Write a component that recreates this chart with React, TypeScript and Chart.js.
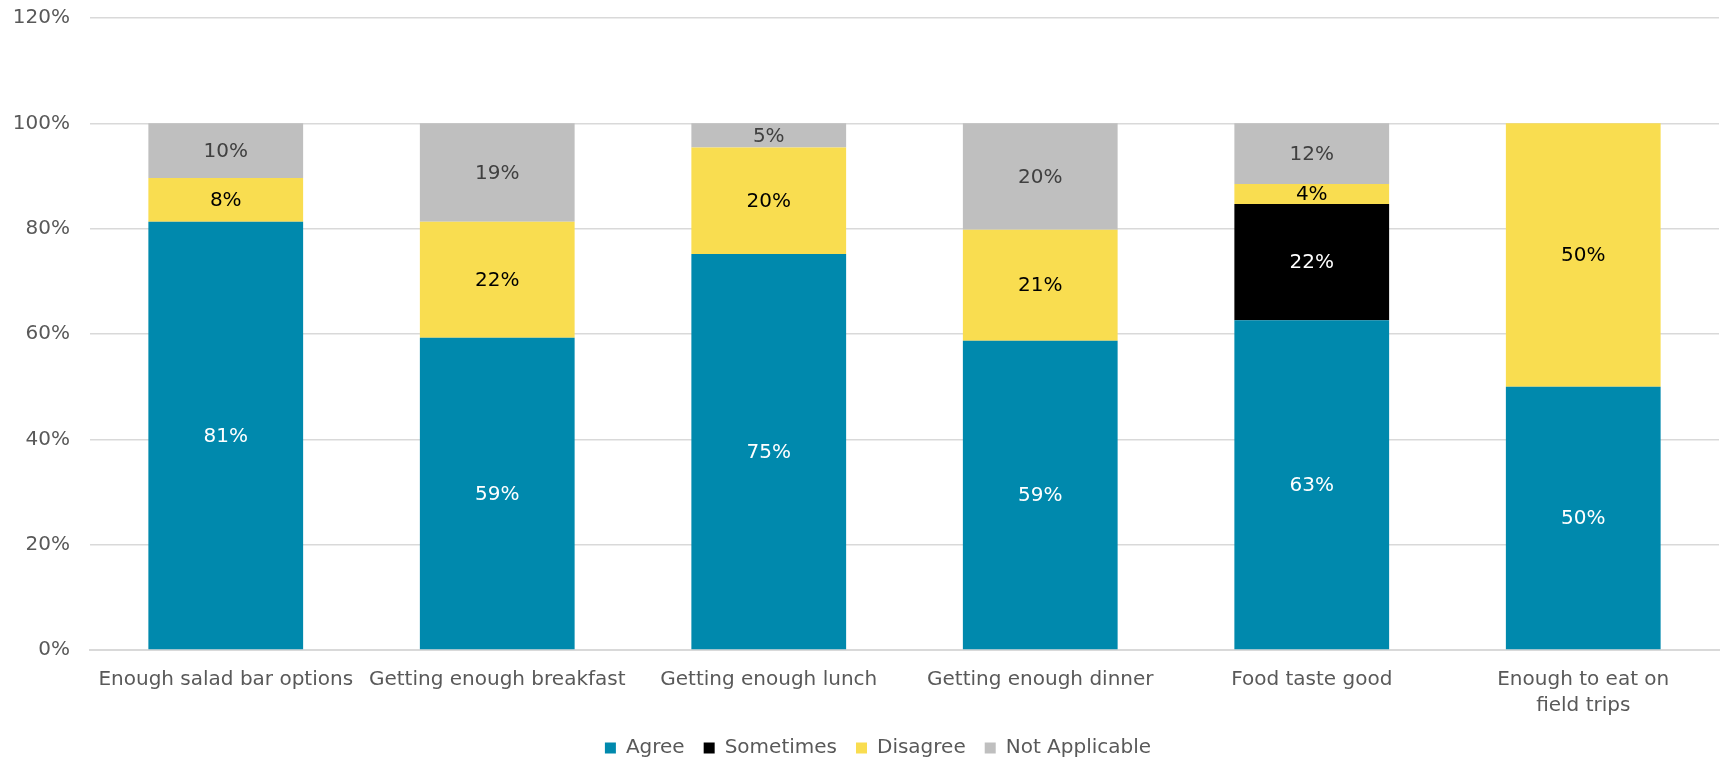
import React, { useEffect, useRef } from "react";
import { Chart, registerables } from "chart.js";

Chart.register(...registerables);

const categories: (string | string[])[] = [
  "Enough salad bar options",
  "Getting enough breakfast",
  "Getting enough lunch",
  "Getting enough dinner",
  "Food taste good",
  ["Enough to eat on", "field trips"],
];

const agree = [81.3, 59.3, 75.2, 58.7, 62.6, 50];
const sometimes = [0, 0, 0, 0, 22.1, 0];
const disagree = [8.3, 22.0, 20.2, 21.1, 3.8, 50];
const notApplicable = [10.4, 18.7, 4.6, 20.2, 11.5, 0];

const yTicks = [0, 20, 40, 60, 80, 100, 120];

const FONT = "'DejaVu Sans', Verdana, sans-serif";
const TEXT = "#595959";

const labelColors = ["#ffffff", "#ffffff", "#000000", "#404040"];

const dataLabelPlugin = {
  id: "segLabels",
  afterDatasetsDraw(chart: any) {
    const ctx = chart.ctx;
    ctx.save();
    ctx.font = `20px ${FONT}`;
    ctx.textAlign = "center";
    ctx.textBaseline = "middle";
    chart.data.datasets.forEach((ds: any, di: number) => {
      const meta = chart.getDatasetMeta(di);
      meta.data.forEach((el: any, i: number) => {
        const v = ds.data[i];
        if (!v) return;
        const p = el.getProps(["x", "y", "base"], true);
        ctx.fillStyle = labelColors[di];
        ctx.fillText(Math.round(v) + "%", p.x, (p.y + p.base) / 2 + 1);
      });
    });
    ctx.restore();
  },
};

const legendShift = {
  id: "legendShift",
  afterLayout(chart: any) {
    if (chart.legend) {
      chart.legend.left += 12;
      chart.legend.right += 12;
    }
  },
};

export default function App() {
  const ref = useRef<HTMLCanvasElement>(null);
  useEffect(() => {
    document.body.style.margin = "0";
    const chart = new Chart(ref.current!, {
      type: "bar",
      data: {
        labels: categories,
        datasets: [
          { label: "Agree", data: agree, backgroundColor: "#0089ad" },
          { label: "Sometimes", data: sometimes, backgroundColor: "#000000" },
          { label: "Disagree", data: disagree, backgroundColor: "#f9dd50" },
          { label: "Not Applicable", data: notApplicable, backgroundColor: "#bfbfbf" },
        ],
      },
      options: {
        animation: false,
        responsive: false,
        maintainAspectRatio: false,
        layout: { padding: { top: 18, right: 6, left: 13, bottom: -9 } },
        datasets: { bar: { barPercentage: 0.57, categoryPercentage: 1 } },
        scales: {
          x: {
            stacked: true,
            grid: { display: false, drawTicks: false },
            border: { display: true, color: "#d9d9d9", width: 2 },
            ticks: {
              color: TEXT,
              font: { family: FONT, size: 20, lineHeight: 1.3 },
              padding: 17,
              maxRotation: 0,
              autoSkip: false,
            },
            afterFit: (axis: any) => {
              axis.height -= 17;
            },
          },
          y: {
            stacked: true,
            min: 0,
            max: 120,
            afterBuildTicks: (axis: any) => {
              axis.ticks = yTicks.map((v) => ({ value: v }));
            },
            afterFit: (axis: any) => {
              axis.width = 77;
            },
            grid: {
              color: "#d9d9d9",
              drawTicks: true,
              tickLength: 20,
              tickColor: "rgba(0,0,0,0)",
              lineWidth: 1.5,
            },
            border: { display: false },
            ticks: {
              color: TEXT,
              font: { family: FONT, size: 20 },
              padding: 0,
              callback: (v: any) => v + "%",
            },
          },
        },
        plugins: {
          tooltip: { enabled: false },
          legend: {
            position: "bottom",
            labels: {
              color: TEXT,
              font: { family: FONT, size: 20 },
              boxWidth: 11,
              boxHeight: 11,
              padding: 19,
            },
          },
        },
      },
      plugins: [dataLabelPlugin, legendShift],
    });
    return () => chart.destroy();
  }, []);
  return (
    <div style={{ width: 1725, height: 759, background: "#fff" }}>
      <canvas ref={ref} width={1725} height={759} style={{ display: "block" }} />
    </div>
  );
}
